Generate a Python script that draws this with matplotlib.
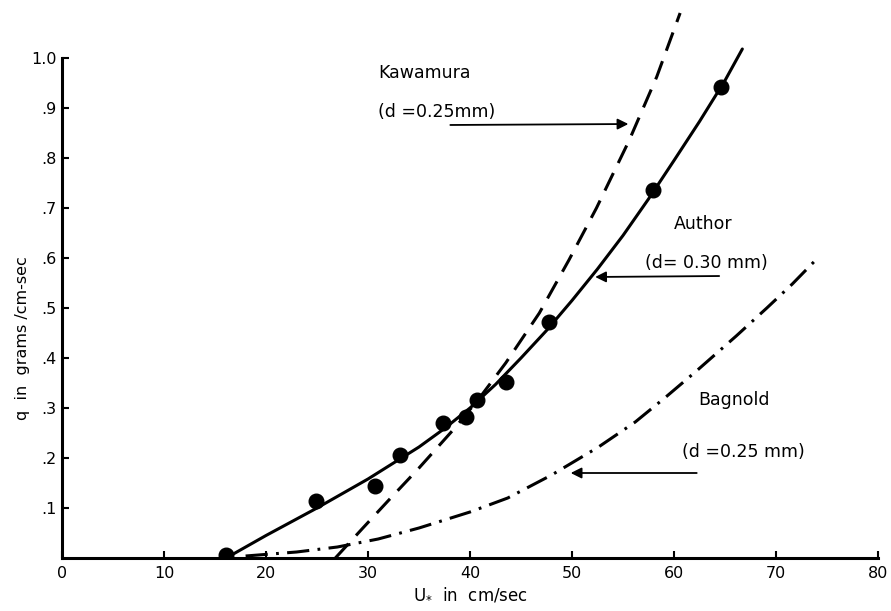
import numpy as np
import matplotlib.pyplot as plt

plt.rcParams['font.family'] = 'DejaVu Sans'
plt.rcParams['lines.scale_dashes'] = False

# measured points (Author)
u_pts = [16.1, 24.9, 30.7, 33.1, 37.4, 39.6, 40.7, 43.5, 47.7, 57.9, 64.6]
q_pts = [0.006, 0.114, 0.144, 0.206, 0.270, 0.282, 0.316, 0.352, 0.472, 0.736, 0.942]

# Author curve (d = 0.30 mm)
u_author = [16.1, 20, 25, 30, 32.5, 35, 37.5, 40, 42.5, 45, 47.5, 50, 52.5,
            55, 57.5, 60, 62.5, 65, 66.7]
q_author = [0.0, 0.045, 0.100, 0.158, 0.190, 0.222, 0.259, 0.300, 0.347, 0.400,
            0.455, 0.515, 0.578, 0.645, 0.718, 0.795, 0.873, 0.955, 1.018]

# Kawamura curve (d = 0.25 mm)
u_kawa = [26.8, 29.5, 32, 35, 38.6, 41, 43.5, 46.8, 49.7, 52.4, 55.6, 58.3, 60.6]
q_kawa = [0.0, 0.060, 0.115, 0.180, 0.262, 0.322, 0.390, 0.490, 0.596, 0.700,
          0.835, 0.962, 1.090]

# Bagnold curve (d = 0.25 mm)
u_bag = [18, 23, 27, 31, 35, 40, 43.7, 48, 52.6, 56.2, 59.2, 62.2, 66.1, 69.1, 71.6, 73.8]
q_bag = [0.004, 0.012, 0.022, 0.038, 0.060, 0.092, 0.120, 0.166, 0.222, 0.272, 0.322,
         0.374, 0.444, 0.500, 0.548, 0.594]

xticks = [0, 10, 20, 30, 40, 50, 60, 70, 80]
yticks = [0.1, 0.2, 0.3, 0.4, 0.5, 0.6, 0.7, 0.8, 0.9, 1.0]
ylabels = ['.1', '.2', '.3', '.4', '.5', '.6', '.7', '.8', '.9', '1.0']

fig = plt.figure(figsize=(8.91, 6.11), dpi=100)
ax = fig.add_axes([62 / 891, 53 / 611, 816 / 891, 558 / 611])

ax.plot(u_author, q_author, color='black', lw=2.2, solid_capstyle='round',
        solid_joinstyle='round')
ax.plot(u_kawa, q_kawa, color='black', lw=2.2, linestyle=(0, (14, 8)))
ax.plot(u_bag, q_bag, color='black', lw=2.2, linestyle=(0, (16, 6, 2, 6)))
ax.plot(u_pts, q_pts, 'o', color='black', markersize=10.5, zorder=5)

ax.set_xlim(0, 80)
ax.set_ylim(0, 1.116)

for s in ['top', 'right']:
    ax.spines[s].set_visible(False)
for s in ['left', 'bottom']:
    ax.spines[s].set_linewidth(2.2)
ax.spines['left'].set_bounds(0, 1.0)
ax.spines['bottom'].set_bounds(0, 80)

ax.set_xticks(xticks)
ax.set_xticklabels([str(t) for t in xticks])
ax.set_yticks(yticks)
ax.set_yticklabels(ylabels)
ax.tick_params(axis='both', direction='in', length=5, width=1.5, labelsize=11.5)
ax.tick_params(axis='x', pad=6)
ax.tick_params(axis='y', pad=4)

ax.text(-0.048, 0.394, 'q  in  grams /cm-sec', transform=ax.transAxes,
        rotation=90, ha='center', va='center', fontsize=11.5)
ax.text(0.50, -0.066, r'$\mathrm{U}_{*}$  in  cm/sec', transform=ax.transAxes,
        ha='center', va='center', fontsize=12)

ann = dict(fontsize=12.5, ha='left', va='center')
ax.text(31.0, 0.970, 'Kawamura', **ann)
ax.text(31.0, 0.892, '(d =0.25mm)', **ann)
ax.text(60.0, 0.668, 'Author', **ann)
ax.text(57.2, 0.590, '(d= 0.30 mm)', **ann)
ax.text(62.4, 0.316, 'Bagnold', **ann)
ax.text(60.8, 0.212, '(d =0.25 mm)', **ann)

arrow = dict(arrowstyle='-|>', lw=1.3, color='black', mutation_scale=16)
ax.annotate('', xy=(55.8, 0.868), xytext=(37.8, 0.866), arrowprops=arrow)
ax.annotate('', xy=(52.0, 0.562), xytext=(64.7, 0.564), arrowprops=arrow)
ax.annotate('', xy=(49.6, 0.170), xytext=(62.5, 0.170), arrowprops=arrow)

fig.savefig('out.png', dpi=100)
